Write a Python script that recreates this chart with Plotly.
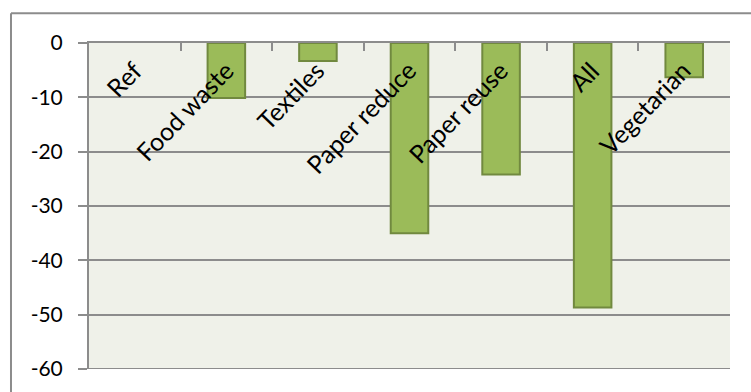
import plotly.graph_objects as go

# Change in emissions per scenario
categories = ["Ref", "Food waste", "Textiles", "Paper reduce", "Paper reuse", "All", "Vegetarian"]
values = [0, -10.1, -3.3, -35.0, -24.2, -48.7, -6.3]
y_ticks = [0, -10, -20, -30, -40, -50, -60]

GRID = "#8c8c8c"
BAR_FILL = "#9bbb59"
BAR_EDGE = "#71893f"
PLOT_BG = "#eff1e9"
FONT = "Lato"

fig = go.Figure(
    go.Bar(
        x=categories,
        y=values,
        width=0.41,
        marker=dict(
            color=BAR_FILL,
            line=dict(color=BAR_EDGE, width=[0 if v == 0 else 2 for v in values]),
        ),
        showlegend=False,
    )
)

# Category names written diagonally just under the top axis
for cat in categories:
    fig.add_annotation(
        x=cat, y=0, xref="x", yref="y",
        text=cat, showarrow=False,
        textangle=-46,
        xanchor="right", yanchor="top",
        xshift=15, yshift=-9,
        font=dict(family=FONT, size=25, color="#000000"),
    )

# Chart-area frame
fig.add_shape(type="line", xref="paper", yref="paper",
              x0=-0.1217, x1=-0.1217, y0=-0.2, y1=1.0915,
              line=dict(color=GRID, width=2))
fig.add_shape(type="line", xref="paper", yref="paper",
              x0=-0.1217, x1=1.2, y0=1.0915, y1=1.0915,
              line=dict(color=GRID, width=2))
# Bottom edge of the plot area (the -60 gridline)
fig.add_shape(type="line", xref="paper", yref="y",
              x0=0, x1=1, y0=-60, y1=-60,
              line=dict(color=GRID, width=2))

fig.update_layout(
    width=751, height=392,
    margin=dict(l=89, r=21, t=43, b=21),
    paper_bgcolor="#ffffff",
    plot_bgcolor=PLOT_BG,
    font=dict(family=FONT, size=21, color="#000000"),
    bargap=0.59,
)

fig.update_xaxes(
    type="category",
    side="top",
    showticklabels=False,
    tickson="boundaries",
    ticks="inside", ticklen=8, tickwidth=2, tickcolor=GRID,
    showline=True, linecolor=GRID, linewidth=2,
    showgrid=False,
)

fig.update_yaxes(
    range=[-60, 0],
    tickvals=y_ticks,
    ticktext=[str(v) for v in y_ticks],
    ticks="outside", ticklen=9, tickwidth=2, tickcolor=GRID,
    ticklabelstandoff=11,
    showline=True, linecolor=GRID, linewidth=2,
    showgrid=True, gridcolor=GRID, gridwidth=2,
    zeroline=False,
)

fig.write_html("out.html")
